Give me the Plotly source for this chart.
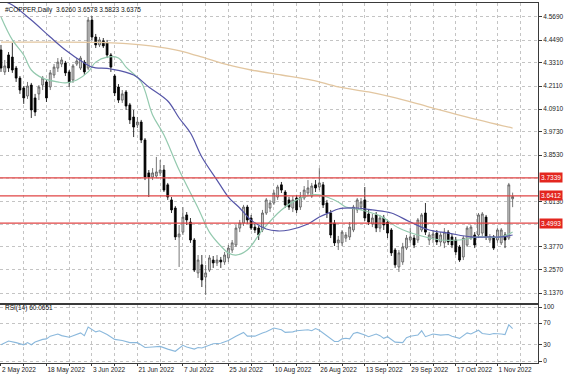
import plotly.graph_objects as go
import pandas as pd

# ---------------- data ----------------
dates = pd.bdate_range("2022-05-02", "2022-11-07")   # daily bars (categories)
bar = list(range(len(dates)))

o = [4.398, 4.284, 4.372, 4.361, 4.304, 4.252, 4.201, 4.159, 4.216, 4.149,
     4.170, 4.216, 4.232, 4.206, 4.268, 4.304, 4.325, 4.330, 4.284, 4.242,
     4.325, 4.304, 4.335, 4.304, 4.553, 4.465, 4.424, 4.445, 4.434, 4.372,
     4.263, 4.206, 4.138, 4.180, 4.113, 4.050, 4.009, 4.024, 3.931, 3.760,
     3.739, 3.744, 3.760, 3.775, 3.698, 3.620, 3.578, 3.428, 3.453, 3.542,
     3.505, 3.412, 3.241, 3.283, 3.220, 3.256, 3.308, 3.293, 3.308, 3.298,
     3.319, 3.360, 3.386, 3.474, 3.500, 3.583, 3.526, 3.479, 3.474, 3.464,
     3.552, 3.578, 3.604, 3.635, 3.698, 3.661, 3.620, 3.578, 3.630, 3.583,
     3.630, 3.656, 3.640, 3.698, 3.687, 3.698, 3.604, 3.552, 3.500, 3.397,
     3.397, 3.422, 3.428, 3.464, 3.568, 3.583, 3.620, 3.547, 3.495, 3.542,
     3.474, 3.526, 3.505, 3.464, 3.360, 3.272, 3.298, 3.370, 3.412, 3.422,
     3.412, 3.464, 3.552, 3.412, 3.422, 3.448, 3.402, 3.397, 3.453, 3.428,
     3.412, 3.376, 3.324, 3.386, 3.422, 3.438, 3.438, 3.448, 3.531, 3.412,
     3.428, 3.412, 3.397, 3.438, 3.422, 3.6260]
h = [4.424, 4.346, 4.387, 4.434, 4.315, 4.263, 4.211, 4.232, 4.227, 4.170,
     4.216, 4.263, 4.242, 4.294, 4.325, 4.356, 4.361, 4.341, 4.294, 4.325,
     4.356, 4.367, 4.346, 4.569, 4.574, 4.481, 4.465, 4.460, 4.450, 4.382,
     4.273, 4.221, 4.190, 4.190, 4.123, 4.087, 4.050, 4.035, 3.941, 3.775,
     3.785, 3.843, 3.827, 3.801, 3.708, 3.635, 3.588, 3.490, 3.583, 3.557,
     3.526, 3.422, 3.334, 3.334, 3.283, 3.334, 3.329, 3.334, 3.324, 3.350,
     3.386, 3.412, 3.490, 3.516, 3.594, 3.594, 3.542, 3.495, 3.485, 3.568,
     3.630, 3.620, 3.671, 3.698, 3.713, 3.671, 3.635, 3.640, 3.646, 3.661,
     3.692, 3.723, 3.708, 3.723, 3.785, 3.713, 3.620, 3.568, 3.516, 3.433,
     3.464, 3.453, 3.505, 3.594, 3.630, 3.630, 3.687, 3.568, 3.547, 3.557,
     3.542, 3.542, 3.516, 3.474, 3.370, 3.360, 3.397, 3.438, 3.474, 3.438,
     3.526, 3.552, 3.604, 3.453, 3.464, 3.464, 3.453, 3.474, 3.464, 3.443,
     3.428, 3.386, 3.433, 3.485, 3.490, 3.453, 3.552, 3.557, 3.542, 3.443,
     3.438, 3.474, 3.474, 3.453, 3.708, 3.6578]
l = [4.284, 4.268, 4.284, 4.279, 4.232, 4.170, 4.118, 4.144, 4.045, 4.055,
     4.138, 4.190, 4.128, 4.190, 4.252, 4.284, 4.309, 4.263, 4.206, 4.227,
     4.315, 4.294, 4.268, 4.294, 4.450, 4.408, 4.413, 4.408, 4.356, 4.284,
     4.159, 4.123, 4.123, 4.087, 4.014, 3.946, 3.993, 3.915, 3.723, 3.635,
     3.723, 3.734, 3.744, 3.661, 3.620, 3.552, 3.412, 3.272, 3.438, 3.490,
     3.397, 3.246, 3.215, 3.168, 3.127, 3.246, 3.267, 3.277, 3.267, 3.283,
     3.298, 3.345, 3.376, 3.453, 3.485, 3.495, 3.464, 3.448, 3.412, 3.453,
     3.542, 3.557, 3.594, 3.620, 3.656, 3.578, 3.568, 3.557, 3.552, 3.568,
     3.620, 3.640, 3.630, 3.661, 3.671, 3.578, 3.526, 3.422, 3.381, 3.360,
     3.381, 3.402, 3.412, 3.453, 3.552, 3.568, 3.511, 3.490, 3.479, 3.453,
     3.453, 3.464, 3.422, 3.329, 3.267, 3.246, 3.283, 3.360, 3.397, 3.370,
     3.397, 3.453, 3.438, 3.386, 3.397, 3.386, 3.381, 3.370, 3.386, 3.370,
     3.334, 3.298, 3.308, 3.376, 3.412, 3.370, 3.422, 3.433, 3.412, 3.397,
     3.360, 3.397, 3.386, 3.370, 3.412, 3.5823]
c = [4.304, 4.315, 4.304, 4.294, 4.252, 4.190, 4.149, 4.211, 4.087, 4.076,
     4.206, 4.252, 4.149, 4.279, 4.309, 4.335, 4.346, 4.279, 4.232, 4.315,
     4.341, 4.356, 4.284, 4.553, 4.465, 4.424, 4.450, 4.419, 4.372, 4.309,
     4.175, 4.138, 4.170, 4.107, 4.035, 3.998, 4.024, 3.931, 3.739, 3.739,
     3.760, 3.765, 3.775, 3.671, 3.635, 3.568, 3.428, 3.443, 3.531, 3.516,
     3.412, 3.256, 3.308, 3.205, 3.241, 3.319, 3.293, 3.308, 3.298, 3.334,
     3.370, 3.397, 3.474, 3.500, 3.583, 3.516, 3.474, 3.464, 3.438, 3.552,
     3.620, 3.604, 3.656, 3.687, 3.671, 3.594, 3.583, 3.620, 3.568, 3.635,
     3.671, 3.682, 3.692, 3.682, 3.708, 3.594, 3.552, 3.438, 3.397, 3.412,
     3.453, 3.438, 3.479, 3.583, 3.620, 3.609, 3.526, 3.505, 3.526, 3.474,
     3.526, 3.490, 3.448, 3.345, 3.283, 3.345, 3.376, 3.422, 3.428, 3.386,
     3.516, 3.542, 3.453, 3.438, 3.443, 3.402, 3.438, 3.453, 3.402, 3.386,
     3.350, 3.308, 3.422, 3.474, 3.479, 3.386, 3.542, 3.547, 3.428, 3.428,
     3.370, 3.464, 3.464, 3.412, 3.698, 3.6375]

# moving averages (bar number, value)
ma_fast_bar = [0, 3, 6, 8, 11, 15, 17, 20, 23, 25, 28, 31, 33, 37, 40, 43, 47, 52, 55, 58,
               60, 62, 65, 69, 74, 78, 82, 84, 86, 89, 91, 95, 100, 105, 110, 116, 121, 126, 132, 135]
ma_fast = [4.569, 4.450, 4.372, 4.294, 4.252, 4.232, 4.227, 4.242, 4.284, 4.335,
           4.361, 4.356, 4.309, 4.232, 4.061, 3.957, 3.775, 3.578, 3.453, 3.381,
           3.345, 3.334, 3.360, 3.464, 3.568, 3.620, 3.646, 3.646, 3.635, 3.609,
           3.583, 3.568, 3.537, 3.474, 3.438, 3.412, 3.412, 3.428, 3.428, 3.453]
ma_mid_bar = [0, 3, 8, 13, 17, 22, 24, 29, 35, 39, 44, 47, 50, 53, 57, 60, 63, 66, 70, 73,
              76, 81, 84, 87, 89, 94, 98, 103, 108, 113, 118, 124, 129, 132, 135]
ma_mid = [4.657, 4.631, 4.553, 4.465, 4.398, 4.330, 4.309, 4.299, 4.268, 4.206,
          4.133, 4.045, 3.967, 3.843, 3.723, 3.635, 3.578, 3.515, 3.469, 3.459,
          3.464, 3.495, 3.531, 3.557, 3.573, 3.578, 3.568, 3.552, 3.505, 3.464,
          3.448, 3.428, 3.428, 3.428, 3.438]
ma_slow_bar = [0, 13, 26, 37, 46, 52, 60, 66, 74, 82, 89, 97, 103, 113, 123, 135]
ma_slow = [4.439, 4.439, 4.437, 4.424, 4.398, 4.367, 4.320, 4.294, 4.268, 4.242,
           4.206, 4.180, 4.154, 4.102, 4.050, 3.993]

rsi_bar = [0, 2, 4, 6, 7, 8, 9, 11, 12, 13, 15, 16, 18, 20, 21, 22, 23, 25, 26, 28,
           30, 32, 34, 36, 38, 40, 42, 44, 46, 48, 49, 51, 52, 53, 55, 56, 58, 60, 62, 64,
           65, 67, 69, 70, 72, 74, 75, 77, 78, 81, 82, 83, 84, 86, 88, 89, 90, 91, 92, 93,
           94, 96, 97, 99, 100, 101, 102, 104, 106, 107, 108, 110, 111, 112, 114, 116, 118, 119, 121, 123,
           124, 126, 127, 129, 130, 132, 133, 134, 135]
rsi = [30, 37, 34, 30, 34, 30, 35, 40, 41, 46, 50, 47, 44, 49, 52, 47, 63, 54, 56, 49,
       40, 38, 34, 34, 25, 26, 27, 22, 18, 29, 26, 22, 25, 24, 30, 32, 33, 38, 46, 53,
       46, 46, 52, 54, 61, 58, 53, 54, 56, 58, 56, 60, 57, 46, 36, 36, 41, 42, 41, 51,
       53, 48, 45, 50, 47, 42, 45, 35, 34, 43, 46, 48, 56, 45, 50, 48, 49, 46, 42, 52,
       50, 57, 51, 49, 51, 50, 49, 67, 60.0651]

levels = [3.7339, 3.6412, 3.4993]
price_ticks = [4.569, 4.449, 4.331, 4.211, 4.091, 3.973, 3.853, 3.613, 3.377, 3.257, 3.137]
hidden_grid = [3.733, 3.493]   # grid levels whose labels sit under the red level tags
date_labels = ["2022-05-02", "2022-05-18", "2022-06-03", "2022-06-21", "2022-07-07", "2022-07-25",
               "2022-08-10", "2022-08-26", "2022-09-13", "2022-09-29", "2022-10-17", "2022-11-01"]
title_text = "#COPPER,Daily  3.6260 3.6578 3.5823 3.6375"
rsi_text = "RSI(14) 60.0651"

# ---------------- axes helpers ----------------
pos = {d.strftime("%Y-%m-%d"): i for i, d in enumerate(dates)}
lab_pos = [pos[d] for d in date_labels]
lab_txt = [f"{pd.Timestamp(d).day} {pd.Timestamp(d).strftime('%b %Y')}" for d in date_labels]
grid_pos, grid_txt = [], []
for k, p in enumerate(lab_pos):
    grid_pos.append(p); grid_txt.append(lab_txt[k])
    nxt = lab_pos[k + 1] if k + 1 < len(lab_pos) else p + 12
    grid_pos.append((p + nxt) / 2); grid_txt.append("")

FONT = "Liberation Sans, Arial, sans-serif"
GRID = "#c4c4c4"
AX = "#3a3a3a"

fig = go.Figure()
fig.add_trace(go.Candlestick(
    x=bar, open=o, high=h, low=l, close=c,
    increasing=dict(line=dict(color="#555555", width=0.8), fillcolor="#d4d4d4"),
    decreasing=dict(line=dict(color="#000000", width=0.8), fillcolor="#000000"),
    whiskerwidth=0, showlegend=False, hoverinfo="skip", xaxis="x", yaxis="y"))
fig.add_trace(go.Scatter(x=ma_slow_bar, y=ma_slow, mode="lines",
                         line=dict(color="#e2c6a0", width=1.3, shape="spline"),
                         showlegend=False, hoverinfo="skip", xaxis="x", yaxis="y"))
fig.add_trace(go.Scatter(x=ma_fast_bar, y=ma_fast, mode="lines",
                         line=dict(color="#93c9ae", width=1.2, shape="spline"),
                         showlegend=False, hoverinfo="skip", xaxis="x", yaxis="y"))
fig.add_trace(go.Scatter(x=ma_mid_bar, y=ma_mid, mode="lines",
                         line=dict(color="#5656a8", width=1.2, shape="spline"),
                         showlegend=False, hoverinfo="skip", xaxis="x", yaxis="y"))
fig.add_trace(go.Scatter(x=rsi_bar, y=rsi, mode="lines",
                         line=dict(color="#8ab8dc", width=1.1),
                         showlegend=False, hoverinfo="skip", xaxis="x2", yaxis="y2"))

for g in hidden_grid:
    fig.add_shape(type="line", xref="paper", x0=0, x1=1, yref="y", y0=g, y1=g,
                  line=dict(color=GRID, width=1, dash="dot"), layer="below")

for lv in levels:
    fig.add_shape(type="line", xref="x", x0=-1, x1=150, yref="y", y0=lv, y1=lv,
                  line=dict(color="#e04545", width=1.3), layer="above")
    fig.add_annotation(xref="paper", x=1.0, xanchor="left", yref="y", y=lv,
                       text=f"{lv:.4f}", showarrow=False, bgcolor="#e3261f",
                       font=dict(color="white", size=6.5, family=FONT),
                       borderpad=1, xshift=1)

fig.add_annotation(xref="paper", x=0.005, xanchor="left", yref="paper", y=0.997, yanchor="top",
                   text=title_text, showarrow=False, font=dict(size=6.5, color="#111", family=FONT))
fig.add_annotation(xref="paper", x=0.005, xanchor="left", yref="paper", y=0.153, yanchor="middle",
                   text=rsi_text, showarrow=False, font=dict(size=6.5, color="#111", family=FONT))

fig.update_layout(
    width=564, height=376,
    margin=dict(l=0, r=26, t=3, b=13),
    paper_bgcolor="white", plot_bgcolor="white",
    font=dict(family=FONT, size=6.5, color="#222"),
    xaxis=dict(domain=[0, 1], anchor="y", range=[-0.26, 141.7],
               tickvals=grid_pos, showticklabels=False, ticks="",
               showgrid=True, gridcolor=GRID, griddash="dot", gridwidth=1,
               showline=True, mirror=True, linecolor=AX, linewidth=1,
               rangeslider=dict(visible=False), zeroline=False),
    yaxis=dict(domain=[0.1667, 1], anchor="x", side="right", range=[3.0852, 4.6416],
               tickvals=price_ticks, ticktext=[f"{v:.4f}" for v in price_ticks],
               ticks="outside", ticklen=3, tickcolor=AX,
               showgrid=True, gridcolor=GRID, griddash="dot", gridwidth=1,
               showline=True, mirror=True, linecolor=AX, linewidth=1, zeroline=False,
               tickfont=dict(size=6.5, family=FONT, color="#222")),
    xaxis2=dict(domain=[0, 1], anchor="y2", matches="x", range=[-0.26, 141.7],
                tickvals=grid_pos, ticktext=grid_txt, ticks="outside", ticklen=2, tickcolor=AX,
                ticklabelposition="outside right", tickangle=0,
                showgrid=True, gridcolor=GRID, griddash="dot", gridwidth=1,
                showline=True, mirror=True, linecolor=AX, linewidth=1, zeroline=False,
                tickfont=dict(size=6.5, family=FONT, color="#222")),
    yaxis2=dict(domain=[0, 0.1611], anchor="x2", side="right", range=[-3.7, 103.7],
                tickvals=[0, 30, 70, 100], ticktext=["0", "30", "70", "100"],
                ticks="outside", ticklen=3, tickcolor=AX,
                showgrid=True, gridcolor=GRID, griddash="dot", gridwidth=1,
                showline=True, mirror=True, linecolor=AX, linewidth=1, zeroline=False,
                tickfont=dict(size=6.5, family=FONT, color="#222")),
)

fig.write_html("out.html", config={"displayModeBar": False},
               post_script="document.body.style.margin='0';document.body.style.padding='0';")
